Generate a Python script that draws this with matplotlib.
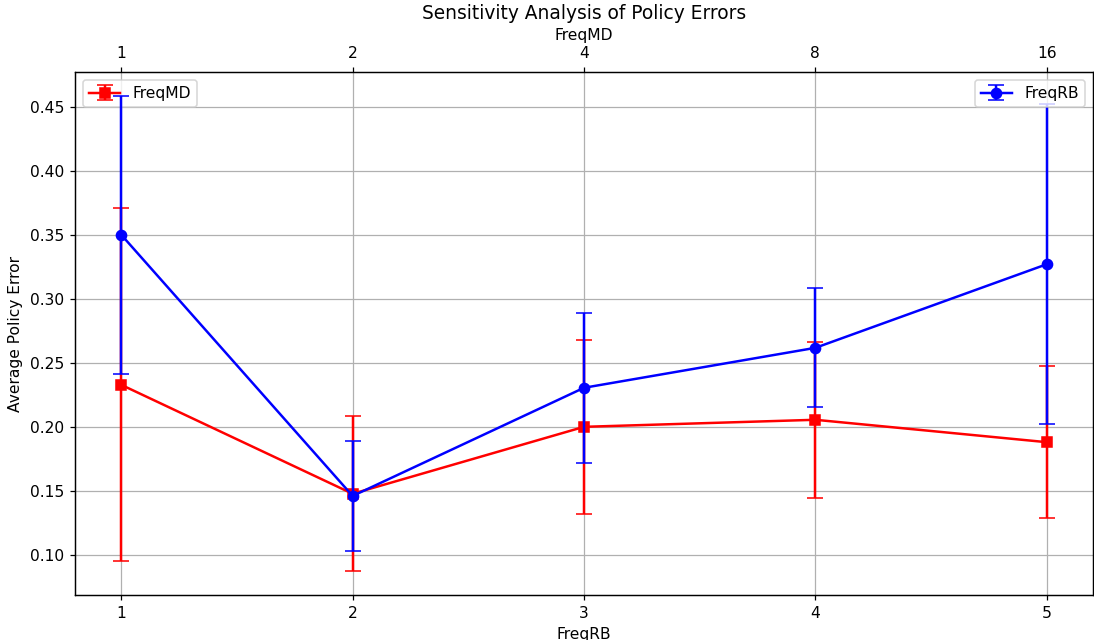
import numpy as np
import matplotlib
matplotlib.use("Agg")
import matplotlib.pyplot as plt

positions = [1, 2, 3, 4, 5]
freq_rb_labels = ["1", "2", "3", "4", "5"]
freq_md_labels = ["1", "2", "4", "8", "16"]

md_mean = [0.2328, 0.1477, 0.2000, 0.2055, 0.1880]
md_err = [0.1380, 0.0605, 0.0680, 0.0610, 0.0595]

rb_mean = [0.3500, 0.1460, 0.2305, 0.2617, 0.3270]
rb_err = [0.1086, 0.0433, 0.0586, 0.0465, 0.1250]

dpi = 112
fig, ax1 = plt.subplots(figsize=(1094/dpi, 640/dpi), dpi=dpi)
fig.subplots_adjust(left=75/1094, right=1093/1094, top=1-72/640, bottom=1-595/640)

ax1.errorbar(positions, md_mean, yerr=md_err, color='red', marker='s', markersize=6.5,
             linewidth=1.6, capsize=5, label='FreqMD')
ax1.set_xlabel('FreqRB')
ax1.set_ylabel('Average Policy Error')
ax1.set_xticks(positions)
ax1.set_xticklabels(freq_rb_labels)
ax1.grid(True)
ax1.legend(loc='upper left')

ax2 = ax1.twiny()
ax2.errorbar(positions, rb_mean, yerr=rb_err, color='blue', marker='o', markersize=6.5,
             linewidth=1.6, capsize=5, label='FreqRB')
ax2.set_xlim(ax1.get_xlim())
ax2.set_xticks(positions)
ax2.set_xticklabels(freq_md_labels)
ax2.set_xlabel('FreqMD')
ax2.legend(loc='upper right')

ax1.set_title('Sensitivity Analysis of Policy Errors')
fig.savefig('out.png', dpi=dpi)
